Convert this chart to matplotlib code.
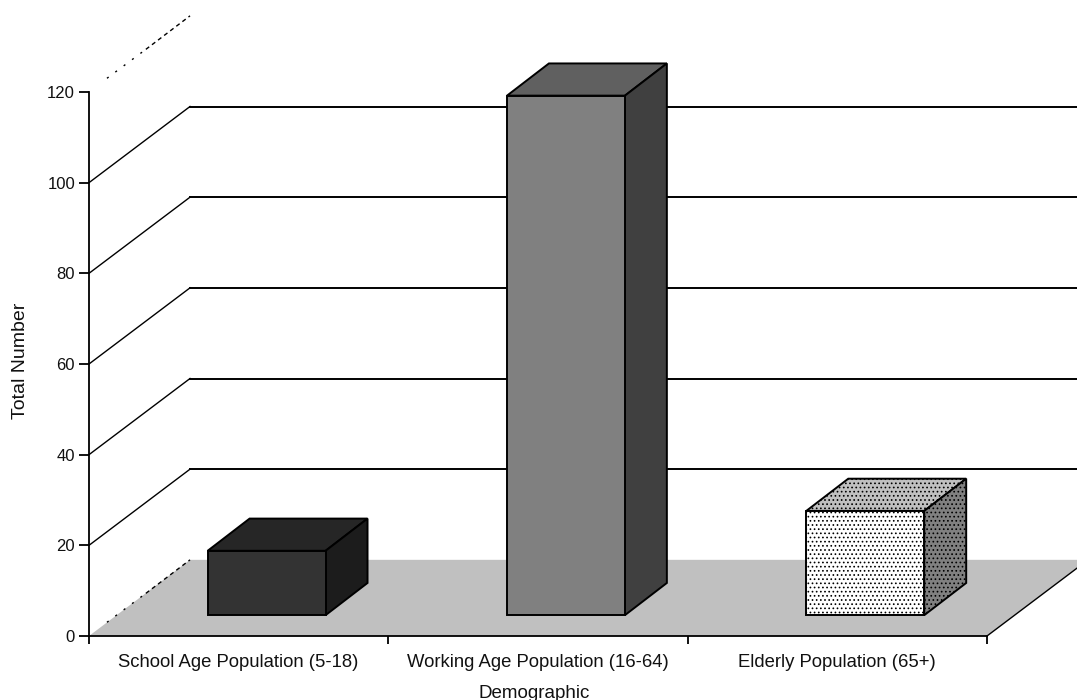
import matplotlib
matplotlib.use("Agg")
import matplotlib.pyplot as plt

categories = ["School Age Population (5-18)", "Working Age Population (16-64)", "Elderly Population (65+)"]
values = [14.2, 114.6, 23]
y_ticks = [0, 20, 40, 60, 80, 100, 120]

front_colors = ["#333333", "#808080", "#ffffff"]
top_colors = ["#262626", "#606060", "#c0c0c0"]
side_colors = ["#1c1c1c", "#404040", "#808080"]
hatches = [None, None, "...."]

# oblique projection, x in category units and y in value units
wall_dx = 0.3375
wall_dy = 16.8
base_dx = 0.0935
base_dy = 4.6
box_dx = 0.14
box_dy = 7.1
bar_w = 0.394

plt.rcParams["font.family"] = ["Liberation Sans", "DejaVu Sans"]
plt.rcParams["hatch.linewidth"] = 0.7

fig = plt.figure(figsize=(10.77, 7.0), dpi=100)
ax = fig.add_axes([89 / 1077, 64 / 700, 898 / 1077, 544 / 700])
ax.set_xlim(0, 3)
ax.set_ylim(0, 120)

# floor
ax.fill([0, wall_dx, 3 + wall_dx, 3], [0, wall_dy, wall_dy, 0],
        color="#c0c0c0", lw=0, zorder=1, clip_on=False)
ax.plot([3, 3 + wall_dx], [0, wall_dy], color="black", lw=1, zorder=2, clip_on=False)

# gridlines run up the side wall and across the back wall
for t in y_ticks:
    if t == 0 or t == 120:
        # these two fade out towards the front: sparse dots, then short dashes
        ax.plot([0.06, 0.19], [t + 0.18 * wall_dy, t + 0.56 * wall_dy], color="black", lw=1,
                ls=(0, (1.5, 6)), zorder=2, clip_on=False)
        ax.plot([0.19, wall_dx], [t + 0.56 * wall_dy, t + wall_dy], color="black", lw=1,
                ls=(0, (3, 2.5)), zorder=2, clip_on=False)
    else:
        ax.plot([0, wall_dx], [t, t + wall_dy], color="black", lw=1, zorder=2, clip_on=False)
        ax.plot([wall_dx, 3 + wall_dx], [t + wall_dy, t + wall_dy], color="black", lw=1.4,
                zorder=2, clip_on=False)

# boxes: front from bar(), top and side faces as polygons
for i, v in enumerate(values):
    x0 = i + 0.5 + base_dx - bar_w / 2
    x1 = x0 + bar_w
    y0 = base_dy
    y1 = base_dy + v
    ax.fill([x0, x0 + box_dx, x1 + box_dx, x1], [y1, y1 + box_dy, y1 + box_dy, y1],
            facecolor=top_colors[i], edgecolor="black", lw=1.4, hatch=hatches[i],
            zorder=3, clip_on=False)
    ax.fill([x1, x1 + box_dx, x1 + box_dx, x1], [y0, y0 + box_dy, y1 + box_dy, y1],
            facecolor=side_colors[i], edgecolor="black", lw=1.4, hatch=hatches[i],
            zorder=3, clip_on=False)
    ax.bar(x0, v, width=bar_w, bottom=y0, align="edge", facecolor=front_colors[i],
           edgecolor="black", lw=1.4, hatch=hatches[i], zorder=4, clip_on=False)

for s in ["top", "right"]:
    ax.spines[s].set_visible(False)
for s in ["left", "bottom"]:
    ax.spines[s].set_linewidth(1.3)
    ax.spines[s].set_zorder(5)

ax.set_yticks(y_ticks)
ax.set_xticks([0, 1, 2, 3])
ax.set_xticklabels([])
ax.set_xticks([0.5, 1.5, 2.5], labels=categories, minor=True)
ax.tick_params(axis="x", which="minor", length=0, pad=13, labelsize=13.3, labelcolor="#111111")
ax.tick_params(axis="x", which="major", length=6, width=1.3)
ax.tick_params(axis="y", length=7, width=1.3, pad=3, labelsize=12, labelcolor="#111111")

ax.set_xlabel("Demographic", fontsize=13.5, color="#111111")
ax.xaxis.set_label_coords(445 / 898, -49 / 544)
ax.set_ylabel("Total Number", fontsize=14, color="#111111")
ax.yaxis.set_label_coords(-60 / 898, 275 / 544)

fig.savefig("out.png", dpi=100)
